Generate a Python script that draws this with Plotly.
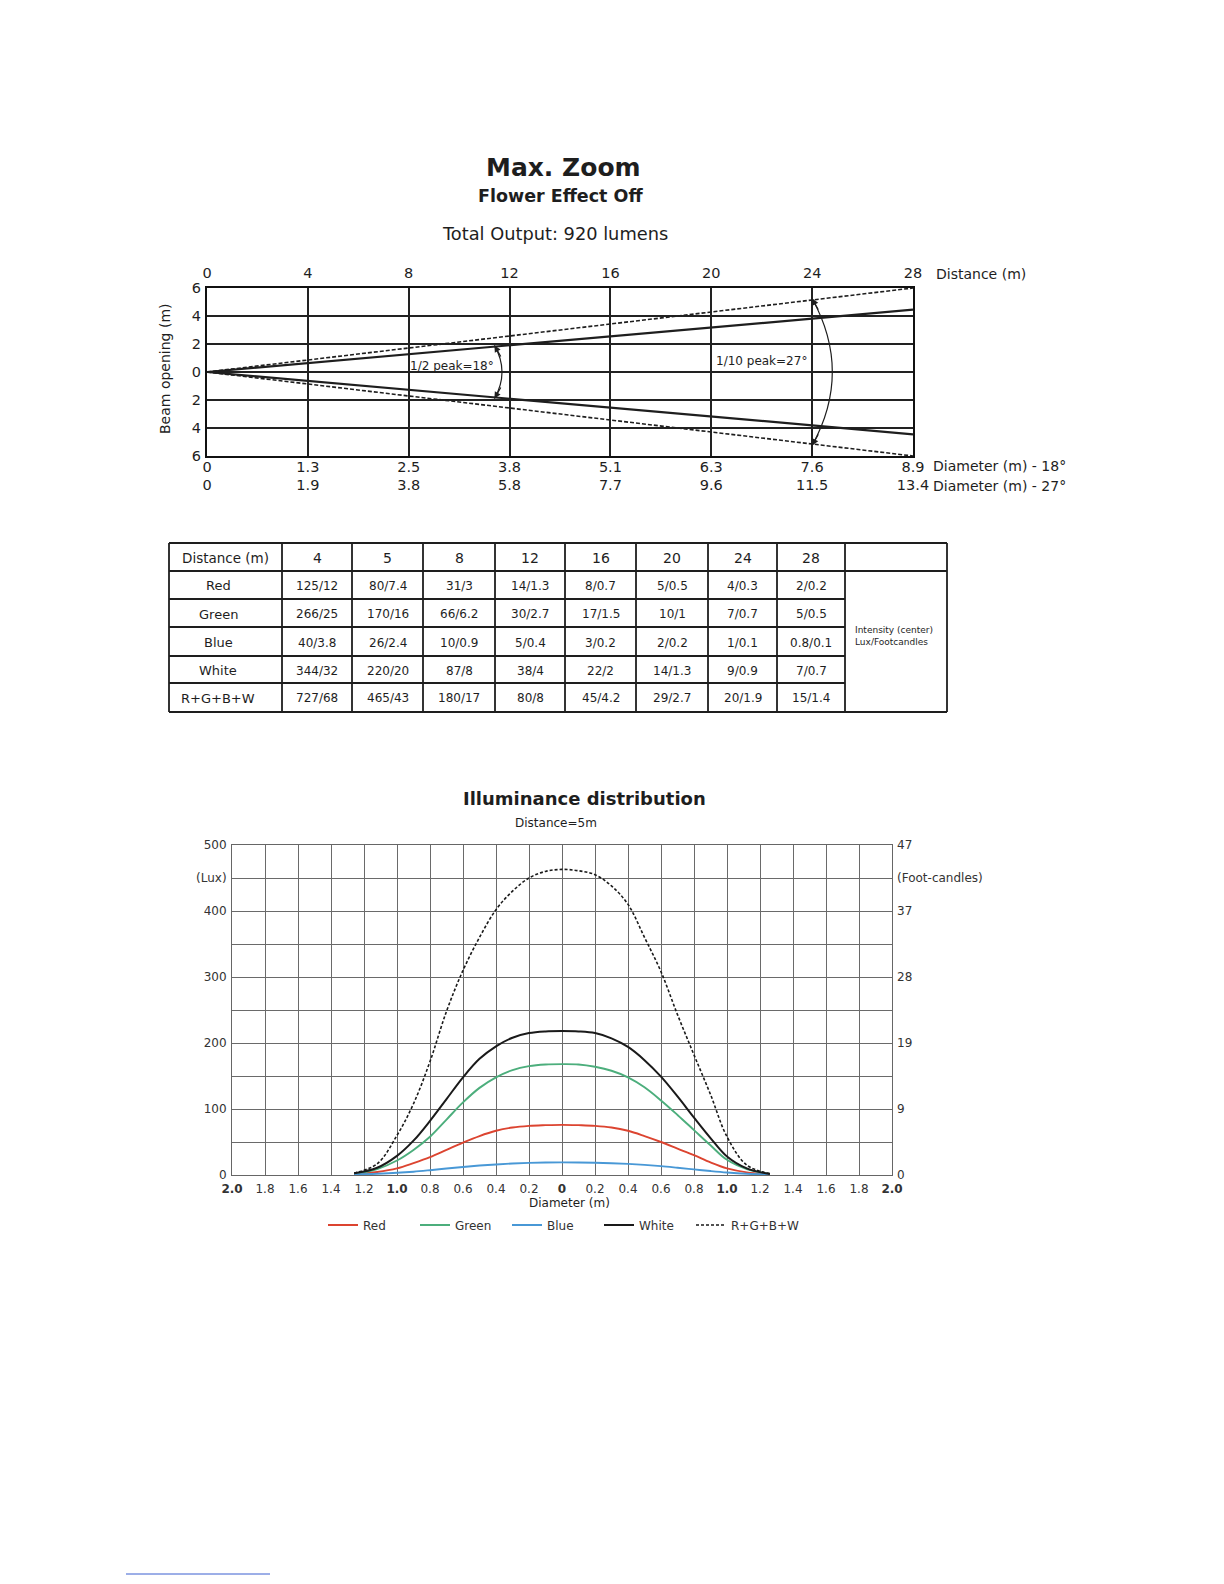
import plotly.graph_objects as go

W, H = 1224, 1584
OX, OY = 8, 8   # the page body margin that offsets the plot div


def X(px):
    return (px - OX) / W


def Y(py):
    return 1 - (py - OY) / H


FONT = "DejaVu Sans"
INK = "#1e1e1e"

# ---------------- data: beam chart ----------------
beam_distance = [0, 28]
half_opening_18 = [0, 4.45]   # solid line (1/2 peak)
half_opening_27 = [0, 6.0]    # dashed line (1/10 peak)
dist_ticks = [0, 4, 8, 12, 16, 20, 24, 28]
diam_18 = ["0", "1.3", "2.5", "3.8", "5.1", "6.3", "7.6", "8.9"]
diam_27 = ["0", "1.9", "3.8", "5.8", "7.7", "9.6", "11.5", "13.4"]
opening_ticks = [6, 4, 2, 0, -2, -4, -6]
opening_labels = ["6", "4", "2", "0", "2", "4", "6"]

# ---------------- data: table ----------------
table_distances = ["4", "5", "8", "12", "16", "20", "24", "28"]
table_rows = ["Red", "Green", "Blue", "White", "R+G+B+W"]
red_vals = ["125/12", "80/7.4", "31/3", "14/1.3", "8/0.7", "5/0.5", "4/0.3", "2/0.2"]
green_vals = ["266/25", "170/16", "66/6.2", "30/2.7", "17/1.5", "10/1", "7/0.7", "5/0.5"]
blue_vals = ["40/3.8", "26/2.4", "10/0.9", "5/0.4", "3/0.2", "2/0.2", "1/0.1", "0.8/0.1"]
white_vals = ["344/32", "220/20", "87/8", "38/4", "22/2", "14/1.3", "9/0.9", "7/0.7"]
rgbw_vals = ["727/68", "465/43", "180/17", "80/8", "45/4.2", "29/2.7", "20/1.9", "15/1.4"]

# ---------------- data: illuminance distribution ----------------
diameter = [-1.26, -1.12, -1.0, -0.9, -0.8, -0.7, -0.6, -0.5, -0.4, -0.3, -0.2, -0.1, 0,
            0.1, 0.2, 0.3, 0.4, 0.5, 0.6, 0.7, 0.8, 0.9, 1.0, 1.12, 1.26]
red_lux = [1, 4.5, 10, 18, 27, 38, 49, 59, 67, 72, 74.5, 75.5, 76,
           75.5, 74.5, 72, 67, 59, 50, 40, 30, 19, 10, 4, 1]
green_lux = [1.5, 9, 22, 38, 58, 84, 110, 132, 148, 159, 165, 167.5, 168,
             167.5, 164, 158, 148, 133, 113, 91, 68, 45, 23, 9, 1.5]
blue_lux = [1, 2, 3.3, 5, 7.3, 9.8, 12.2, 14.3, 16, 17.4, 18.4, 19, 19.2,
            19, 18.5, 17.8, 16.8, 15.3, 13.4, 11, 8.5, 6, 3.8, 2, 1]
white_lux = [2.5, 11, 29, 52, 82, 115, 148, 176, 195, 208, 215, 217.5, 218,
             217.5, 215, 207, 194, 174, 149, 119, 87, 56, 28, 10, 1.5]
rgbw_lux = [3, 17, 60, 108, 172, 248, 310, 360, 402, 430, 450, 460, 463,
            461, 455, 438, 410, 360, 308, 243, 182, 122, 58, 15, 2]
lux_ticks = [0, 50, 100, 150, 200, 250, 300, 350, 400, 450, 500]
lux_labels = ["0", "", "100", "", "200", "", "300", "", "400", "(Lux)", "500"]
fc_ticks = [0, 100, 200, 300, 400, 450, 500]
fc_labels = ["0", "9", "19", "28", "37", "(Foot-candles)", "47"]
diam_ticks = [round(-2 + 0.2 * i, 1) for i in range(21)]

fig = go.Figure()

# ---- beam chart traces
for sign in (1, -1):
    fig.add_trace(go.Scatter(x=beam_distance, y=[sign * v for v in half_opening_27], mode="lines",
                             line=dict(color=INK, width=1.6, dash="4px,2px"),
                             xaxis="x", yaxis="y", showlegend=False, hoverinfo="skip"))
    fig.add_trace(go.Scatter(x=beam_distance, y=[sign * v for v in half_opening_18], mode="lines",
                             line=dict(color=INK, width=2.2),
                             xaxis="x", yaxis="y", showlegend=False, hoverinfo="skip"))
# invisible trace to activate the bottom (diameter) axis
fig.add_trace(go.Scatter(x=[0, 28], y=[0, 0], mode="lines", opacity=0, xaxis="x2", yaxis="y",
                         showlegend=False, hoverinfo="skip"))

# ---- illuminance traces
series = [
    ("Red", red_lux, "#dc4430", None, 1.9),
    ("Green", green_lux, "#4cae7c", None, 1.9),
    ("Blue", blue_lux, "#4898d6", None, 1.9),
    ("White", white_lux, "#1a1a1a", None, 2.0),
    ("R+G+B+W", rgbw_lux, "#1a1a1a", "3px,2px", 1.6),
]
for name, vals, col, dash, w in series:
    fig.add_trace(go.Scatter(x=diameter, y=vals, name=name, mode="lines",
                             line=dict(color=col, width=w, dash=dash, shape="spline", smoothing=1.0),
                             xaxis="x3", yaxis="y3"))
fig.add_trace(go.Scatter(x=[-2, 2], y=[0, 0], mode="lines", opacity=0, xaxis="x3", yaxis="y4",
                         showlegend=False, hoverinfo="skip"))
# blank legend slot so the last legend label is not clipped
fig.add_trace(go.Scatter(x=[0], y=[-100], name=" ", mode="lines", line=dict(color="rgba(0,0,0,0)", width=0),
                         xaxis="x3", yaxis="y3", hoverinfo="skip"))

annotations = []
shapes = []


def text(px, py, s, size, bold=False, xanchor="center", yanchor="middle", color=INK, align="center"):
    annotations.append(dict(x=X(px), y=Y(py), xref="paper", yref="paper", text=(f"<b>{s}</b>" if bold else s),
                            showarrow=False, xanchor=xanchor, yanchor=yanchor, align=align,
                            font=dict(family=FONT, size=size, color=color)))


# ---- page titles
text(563, 168, "Max. Zoom", 25, bold=True)
text(560, 196, "Flower Effect Off", 17.5, bold=True)
text(555, 233, "Total Output: 920 lumens", 17.8)

# ---- beam chart extras
text(934, 274, "Distance (m)", 14, xanchor="left")
text(931, 466, "Diameter (m) - 18°", 14, xanchor="left")
text(931, 486, "Diameter (m) - 27°", 14, xanchor="left")
annotations.append(dict(x=X(165), y=Y(369), xref="paper", yref="paper", text="Beam opening (m)",
                        textangle=-90, showarrow=False, xanchor="center", yanchor="middle",
                        font=dict(family=FONT, size=14, color=INK)))
annotations.append(dict(x=9.72, y=0.45, xref="x", yref="y", text="1/2 peak=18°", showarrow=False,
                        xanchor="center", yanchor="middle", font=dict(family=FONT, size=12, color=INK)))
annotations.append(dict(x=22.0, y=0.8, xref="x", yref="y", text="1/10 peak=27°", showarrow=False,
                        xanchor="center", yanchor="middle", font=dict(family=FONT, size=12, color=INK)))

# arcs with arrowheads (angle markers)
arcs = [(11.4, 1.9, 12.0), (24.0, 5.25, 25.6)]
for x0, y0, xc in arcs:
    shapes.append(dict(type="path", xref="x", yref="y",
                       path=f"M {x0},{y0} Q {xc},0 {x0},{-y0}", line=dict(color=INK, width=1.2)))
    dx, dy = (xc - x0), y0
    k = 0.9 / dy
    for s in (1, -1):
        annotations.append(dict(x=x0, y=s * y0, ax=x0 + dx * k, ay=s * (y0 - dy * k),
                                xref="x", yref="y", axref="x", ayref="y", text="", showarrow=True,
                                arrowhead=2, arrowsize=1.1, arrowwidth=1.2, arrowcolor=INK))

# ---- table (drawn with lines + text)
col_edges = [169, 282, 352, 423, 495, 565, 636, 708, 777, 845, 947]
row_edges = [543, 571, 599, 627, 656, 683, 712]
LW = 1.8
for i, cx in enumerate(col_edges):
    shapes.append(dict(type="line", xref="paper", yref="paper", x0=X(cx), x1=X(cx),
                       y0=Y(row_edges[0]), y1=Y(row_edges[-1]), line=dict(color=INK, width=LW)))
for j, ry in enumerate(row_edges):
    right = col_edges[-1] if j in (0, 1, len(row_edges) - 1) else col_edges[-2]
    shapes.append(dict(type="line", xref="paper", yref="paper", x0=X(col_edges[0]), x1=X(right),
                       y0=Y(ry), y1=Y(ry), line=dict(color=INK, width=LW)))


def rc(j):
    return (row_edges[j] + row_edges[j + 1]) / 2 + 1


def cc(i):
    return (col_edges[i] + col_edges[i + 1]) / 2


text(cc(0), rc(0), "Distance (m)", 13.5)
for i, d in enumerate(table_distances):
    text(cc(i + 1), rc(0), d, 14)
all_vals = [red_vals, green_vals, blue_vals, white_vals, rgbw_vals]
for j, (name, vals) in enumerate(zip(table_rows, all_vals)):
    text(218, rc(j + 1), name, 13)
    for i, v in enumerate(vals):
        text(cc(i + 1), rc(j + 1), v, 12)
text(853, 636, "Intensity (center)<br>Lux/Footcandles", 9, xanchor="left", align="left")

# ---- illuminance extras
text(584, 798, "Illuminance distribution", 18, bold=True)
text(556, 823, "Distance=5m", 12)
text(569, 1203, "Diameter (m)", 12)

# stray link underline at the page bottom
shapes.append(dict(type="line", xref="paper", yref="paper", x0=X(126), x1=X(270), y0=Y(1574), y1=Y(1574),
                   line=dict(color="#3b5fd0", width=1)))

diam_text = []
for v in diam_ticks:
    a = abs(v)
    if a < 1e-9:
        diam_text.append("<b>0</b>")
    elif abs(a - 1.0) < 1e-9 or abs(a - 2.0) < 1e-9:
        diam_text.append(f"<b>{a:.1f}</b>")
    else:
        diam_text.append(f"{a:.1f}")

beam_grid = dict(showgrid=True, gridcolor="#222222", gridwidth=1.5, zeroline=False, fixedrange=True)
fig.update_layout(
    template="none",
    width=W, height=H,
    margin=dict(l=0, r=0, t=0, b=0),
    paper_bgcolor="white", plot_bgcolor="white",
    font=dict(family=FONT, color=INK),
    xaxis=dict(domain=[X(207), X(913)], range=[0, 28], side="top", anchor="y",
               tickvals=dist_ticks, ticktext=[str(d) for d in dist_ticks], ticks="",
               tickfont=dict(size=14.5), showline=True, mirror=True, linecolor="#111", linewidth=2,
               automargin=False, ticklabelstandoff=2, **beam_grid),
    xaxis2=dict(overlaying="x", side="bottom", anchor="y", range=[0, 28], tickvals=dist_ticks,
                ticktext=[f"{a}<br>{b}" for a, b in zip(diam_18, diam_27)], ticks="",
                tickfont=dict(size=14.5), showgrid=False, zeroline=False, showline=False,
                automargin=False, ticklabelstandoff=0, fixedrange=True),
    yaxis=dict(domain=[Y(456), Y(288)], range=[-6, 6], anchor="x", tickvals=opening_ticks,
               ticktext=opening_labels, ticks="", tickfont=dict(size=14.5), showline=True, mirror=True,
               linecolor="#111", linewidth=2, automargin=False, ticklabelstandoff=1, **beam_grid),
    xaxis3=dict(domain=[X(232), X(892)], range=[-2, 2], anchor="y3", tickvals=diam_ticks, ticktext=diam_text,
                ticks="", tickfont=dict(size=12, color="#333"), showgrid=True, gridcolor="#6a6a6a",
                gridwidth=1, zeroline=False, showline=True, mirror=True, linecolor="#666", linewidth=1,
                automargin=False, ticklabelstandoff=3, fixedrange=True),
    yaxis3=dict(domain=[Y(1175), Y(845)], range=[0, 500], anchor="x3", tickvals=lux_ticks,
                ticktext=lux_labels, ticks="", tickfont=dict(size=12, color="#333"), showgrid=True,
                gridcolor="#6a6a6a", gridwidth=1, zeroline=False, showline=True, mirror=True,
                linecolor="#666", linewidth=1, automargin=False, ticklabelstandoff=2, fixedrange=True),
    yaxis4=dict(overlaying="y3", side="right", anchor="x3", range=[0, 500], tickvals=fc_ticks,
                ticktext=fc_labels, ticks="", tickfont=dict(size=12, color="#333"), showgrid=False,
                zeroline=False, showline=False, automargin=False, ticklabelstandoff=4, fixedrange=True),
    showlegend=True,
    legend=dict(orientation="h", x=X(323), y=Y(1225), xanchor="left", yanchor="middle",
                font=dict(family=FONT, size=12, color="#333"), bgcolor="rgba(0,0,0,0)",
                entrywidth=47, entrywidthmode="pixels",
                traceorder="normal", itemclick=False, itemdoubleclick=False),
    annotations=annotations,
    shapes=shapes,
)

fig.write_html("out.html")
